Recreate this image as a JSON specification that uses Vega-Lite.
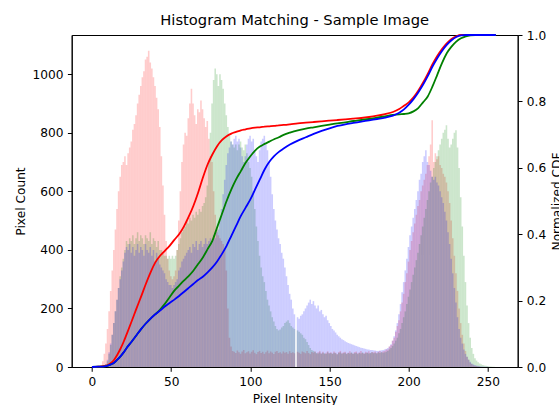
{
"$schema": "https://vega.github.io/schema/vega-lite/v6.json",
"width": 446, "height": 332,
"autosize": {"type": "none"},
"padding": {"left": 71.7, "top": 35, "right": 41.3, "bottom": 38},
"title": {"text": "Histogram Matching - Sample Image", "fontSize": 14.7, "fontWeight": "normal", "font": "DejaVu Sans", "color": "#000", "offset": 7, "dy": 18, "baseline": "alphabetic", "frame": "group", "anchor": "middle"},
"datasets": {
"hist": [
{"v":0,"r":0,"g":0,"b":0},{"v":1,"r":0,"g":0,"b":0},{"v":2,"r":0,"g":0,"b":0},{"v":3,"r":0,"g":0,"b":0},{"v":4,"r":0,"g":0,"b":0},
{"v":5,"r":5,"g":0,"b":0},{"v":6,"r":20,"g":0,"b":0},{"v":7,"r":45,"g":0,"b":0},{"v":8,"r":80,"g":10,"b":10},{"v":9,"r":130,"g":20,"b":25},
{"v":10,"r":190,"g":45,"b":50},{"v":11,"r":260,"g":75,"b":80},{"v":12,"r":330,"g":110,"b":110},{"v":13,"r":400,"g":150,"b":150},{"v":14,"r":470,"g":190,"b":190},
{"v":15,"r":540,"g":230,"b":230},{"v":16,"r":600,"g":270,"b":270},{"v":17,"r":650,"g":310,"b":300},{"v":18,"r":690,"g":340,"b":330},{"v":19,"r":700,"g":370,"b":360},
{"v":20,"r":720,"g":400,"b":390},{"v":21,"r":690,"g":430,"b":410},{"v":22,"r":730,"g":420,"b":400},{"v":23,"r":750,"g":440,"b":420},{"v":24,"r":770,"g":430,"b":390},
{"v":25,"r":810,"g":450,"b":410},{"v":26,"r":830,"g":420,"b":380},{"v":27,"r":860,"g":440,"b":400},{"v":28,"r":900,"g":460,"b":420},{"v":29,"r":930,"g":430,"b":390},
{"v":30,"r":960,"g":450,"b":410},{"v":31,"r":990,"g":440,"b":400},{"v":32,"r":1010,"g":420,"b":380},{"v":33,"r":1050,"g":450,"b":420},{"v":34,"r":1060,"g":440,"b":400},
{"v":35,"r":1080,"g":430,"b":390},{"v":36,"r":1040,"g":460,"b":410},{"v":37,"r":1020,"g":420,"b":380},{"v":38,"r":990,"g":440,"b":400},{"v":39,"r":960,"g":430,"b":360},
{"v":40,"r":920,"g":410,"b":390},{"v":41,"r":880,"g":430,"b":370},{"v":42,"r":820,"g":400,"b":350},{"v":43,"r":720,"g":400,"b":340},{"v":44,"r":620,"g":390,"b":330},
{"v":45,"r":520,"g":380,"b":320},{"v":46,"r":430,"g":380,"b":300},{"v":47,"r":370,"g":370,"b":290},{"v":48,"r":330,"g":380,"b":280},{"v":49,"r":310,"g":370,"b":280},
{"v":50,"r":300,"g":380,"b":270},{"v":51,"r":310,"g":370,"b":280},{"v":52,"r":330,"g":380,"b":290},{"v":53,"r":400,"g":400,"b":300},{"v":54,"r":500,"g":420,"b":330},
{"v":55,"r":600,"g":440,"b":340},{"v":56,"r":700,"g":460,"b":360},{"v":57,"r":760,"g":470,"b":370},{"v":58,"r":800,"g":480,"b":380},{"v":59,"r":790,"g":500,"b":390},
{"v":60,"r":850,"g":490,"b":400},{"v":61,"r":900,"g":510,"b":410},{"v":62,"r":950,"g":500,"b":390},{"v":63,"r":900,"g":520,"b":420},{"v":64,"r":860,"g":510,"b":410},
{"v":65,"r":830,"g":530,"b":430},{"v":66,"r":880,"g":520,"b":400},{"v":67,"r":870,"g":540,"b":420},{"v":68,"r":910,"g":530,"b":430},{"v":69,"r":880,"g":550,"b":410},
{"v":70,"r":850,"g":560,"b":420},{"v":71,"r":820,"g":580,"b":440},{"v":72,"r":840,"g":620,"b":420},{"v":73,"r":780,"g":700,"b":430},{"v":74,"r":720,"g":800,"b":440},
{"v":75,"r":700,"g":900,"b":430},{"v":76,"r":600,"g":980,"b":450},{"v":77,"r":520,"g":1020,"b":440},{"v":78,"r":470,"g":1000,"b":460},{"v":79,"r":450,"g":960,"b":470},
{"v":80,"r":440,"g":1000,"b":500},{"v":81,"r":430,"g":980,"b":540},{"v":82,"r":420,"g":950,"b":590},{"v":83,"r":400,"g":900,"b":640},{"v":84,"r":330,"g":860,"b":690},
{"v":85,"r":200,"g":820,"b":730},{"v":86,"r":100,"g":790,"b":750},{"v":87,"r":70,"g":770,"b":770},{"v":88,"r":55,"g":760,"b":760},{"v":89,"r":52,"g":750,"b":780},
{"v":90,"r":48,"g":760,"b":790},{"v":91,"r":56,"g":740,"b":770},{"v":92,"r":50,"g":760,"b":780},{"v":93,"r":45,"g":770,"b":750},{"v":94,"r":53,"g":750,"b":720},
{"v":95,"r":58,"g":740,"b":700},{"v":96,"r":47,"g":760,"b":720},{"v":97,"r":50,"g":730,"b":760},{"v":98,"r":54,"g":700,"b":780},{"v":99,"r":46,"g":680,"b":790},
{"v":100,"r":52,"g":650,"b":770},{"v":101,"r":57,"g":600,"b":780},{"v":102,"r":49,"g":540,"b":740},{"v":103,"r":44,"g":480,"b":720},{"v":104,"r":51,"g":430,"b":700},
{"v":105,"r":55,"g":380,"b":740},{"v":106,"r":48,"g":340,"b":770},{"v":107,"r":52,"g":310,"b":780},{"v":108,"r":45,"g":290,"b":790},{"v":109,"r":50,"g":260,"b":760},
{"v":110,"r":56,"g":230,"b":740},{"v":111,"r":47,"g":210,"b":700},{"v":112,"r":53,"g":190,"b":650},{"v":113,"r":49,"g":170,"b":590},{"v":114,"r":44,"g":155,"b":540},
{"v":115,"r":52,"g":140,"b":500},{"v":116,"r":55,"g":130,"b":470},{"v":117,"r":48,"g":125,"b":440},{"v":118,"r":50,"g":128,"b":420},{"v":119,"r":46,"g":135,"b":390},
{"v":120,"r":53,"g":140,"b":370},{"v":121,"r":49,"g":150,"b":340},{"v":122,"r":51,"g":155,"b":310},{"v":123,"r":45,"g":160,"b":280},{"v":124,"r":54,"g":150,"b":250},
{"v":125,"r":48,"g":140,"b":230},{"v":126,"r":50,"g":135,"b":200},{"v":127,"r":47,"g":130,"b":180},{"v":128,"r":0,"g":0,"b":0},{"v":129,"r":52,"g":125,"b":170},
{"v":130,"r":49,"g":120,"b":165},{"v":131,"r":45,"g":115,"b":175},{"v":132,"r":53,"g":110,"b":180},{"v":133,"r":50,"g":100,"b":190},{"v":134,"r":47,"g":95,"b":200},
{"v":135,"r":55,"g":85,"b":210},{"v":136,"r":48,"g":75,"b":220},{"v":137,"r":44,"g":65,"b":230},{"v":138,"r":51,"g":58,"b":215},{"v":139,"r":49,"g":55,"b":225},
{"v":140,"r":53,"g":52,"b":210},{"v":141,"r":46,"g":48,"b":200},{"v":142,"r":50,"g":46,"b":210},{"v":143,"r":55,"g":50,"b":190},{"v":144,"r":47,"g":45,"b":195},
{"v":145,"r":52,"g":49,"b":180},{"v":146,"r":45,"g":47,"b":170},{"v":147,"r":49,"g":44,"b":175},{"v":148,"r":54,"g":50,"b":160},{"v":149,"r":48,"g":46,"b":150},
{"v":150,"r":50,"g":48,"b":140},{"v":151,"r":46,"g":45,"b":130},{"v":152,"r":53,"g":49,"b":125},{"v":153,"r":49,"g":47,"b":118},{"v":154,"r":44,"g":43,"b":110},
{"v":155,"r":51,"g":48,"b":105},{"v":156,"r":55,"g":50,"b":100},{"v":157,"r":47,"g":45,"b":95},{"v":158,"r":50,"g":47,"b":92},{"v":159,"r":52,"g":49,"b":88},
{"v":160,"r":46,"g":44,"b":85},{"v":161,"r":49,"g":48,"b":82},{"v":162,"r":54,"g":46,"b":80},{"v":163,"r":48,"g":50,"b":78},{"v":164,"r":45,"g":45,"b":76},
{"v":165,"r":51,"g":47,"b":74},{"v":166,"r":53,"g":49,"b":72},{"v":167,"r":47,"g":44,"b":70},{"v":168,"r":50,"g":48,"b":68},{"v":169,"r":55,"g":46,"b":66},
{"v":170,"r":48,"g":50,"b":65},{"v":171,"r":46,"g":45,"b":63},{"v":172,"r":52,"g":47,"b":62},{"v":173,"r":49,"g":49,"b":60},{"v":174,"r":54,"g":46,"b":60},
{"v":175,"r":47,"g":48,"b":58},{"v":176,"r":51,"g":50,"b":58},{"v":177,"r":50,"g":47,"b":57},{"v":178,"r":53,"g":49,"b":56},{"v":179,"r":48,"g":46,"b":55},
{"v":180,"r":52,"g":50,"b":55},{"v":181,"r":55,"g":48,"b":56},{"v":182,"r":50,"g":51,"b":57},{"v":183,"r":54,"g":49,"b":58},{"v":184,"r":55,"g":50,"b":60},
{"v":185,"r":60,"g":52,"b":62},{"v":186,"r":60,"g":55,"b":65},{"v":187,"r":70,"g":60,"b":70},{"v":188,"r":75,"g":65,"b":78},{"v":189,"r":90,"g":72,"b":90},
{"v":190,"r":100,"g":80,"b":105},{"v":191,"r":120,"g":90,"b":125},{"v":192,"r":140,"g":100,"b":150},{"v":193,"r":160,"g":115,"b":180},{"v":194,"r":190,"g":130,"b":215},
{"v":195,"r":220,"g":150,"b":255},{"v":196,"r":250,"g":170,"b":290},{"v":197,"r":290,"g":190,"b":330},{"v":198,"r":320,"g":215,"b":370},{"v":199,"r":360,"g":240,"b":410},
{"v":200,"r":400,"g":265,"b":450},{"v":201,"r":430,"g":290,"b":480},{"v":202,"r":460,"g":315,"b":510},{"v":203,"r":490,"g":340,"b":540},{"v":204,"r":520,"g":365,"b":570},
{"v":205,"r":550,"g":390,"b":600},{"v":206,"r":570,"g":420,"b":640},{"v":207,"r":600,"g":450,"b":660},{"v":208,"r":620,"g":480,"b":700},{"v":209,"r":640,"g":510,"b":720},
{"v":210,"r":660,"g":540,"b":740},{"v":211,"r":690,"g":570,"b":700},{"v":212,"r":720,"g":600,"b":690},{"v":213,"r":760,"g":630,"b":670},{"v":214,"r":843,"g":650,"b":650},
{"v":215,"r":700,"g":680,"b":640},{"v":216,"r":730,"g":700,"b":650},{"v":217,"r":710,"g":720,"b":630},{"v":218,"r":720,"g":740,"b":620},{"v":219,"r":690,"g":760,"b":600},
{"v":220,"r":680,"g":780,"b":580},{"v":221,"r":660,"g":800,"b":560},{"v":222,"r":650,"g":810,"b":530},{"v":223,"r":630,"g":826,"b":500},{"v":224,"r":600,"g":780,"b":460},
{"v":225,"r":560,"g":750,"b":420},{"v":226,"r":500,"g":760,"b":370},{"v":227,"r":440,"g":780,"b":320},{"v":228,"r":380,"g":800,"b":270},{"v":229,"r":320,"g":809,"b":220},
{"v":230,"r":260,"g":750,"b":170},{"v":231,"r":200,"g":680,"b":130},{"v":232,"r":150,"g":580,"b":100},{"v":233,"r":110,"g":480,"b":80},{"v":234,"r":80,"g":380,"b":60},
{"v":235,"r":55,"g":290,"b":45},{"v":236,"r":35,"g":210,"b":35},{"v":237,"r":25,"g":150,"b":25},{"v":238,"r":15,"g":100,"b":18},{"v":239,"r":10,"g":65,"b":12},
{"v":240,"r":6,"g":45,"b":9},{"v":241,"r":4,"g":30,"b":7},{"v":242,"r":3,"g":22,"b":5},{"v":243,"r":2,"g":16,"b":4},{"v":244,"r":1,"g":12,"b":3},
{"v":245,"r":0,"g":9,"b":2},{"v":246,"r":0,"g":7,"b":2},{"v":247,"r":0,"g":5,"b":1},{"v":248,"r":0,"g":4,"b":1},{"v":249,"r":0,"g":3,"b":1},
{"v":250,"r":0,"g":2,"b":0},{"v":251,"r":0,"g":2,"b":0},{"v":252,"r":0,"g":1,"b":0},{"v":253,"r":0,"g":1,"b":0},{"v":254,"r":0,"g":0,"b":0},{"v":255,"r":0,"g":0,"b":0}
],
"cdf": [
{"v":0,"r":0,"g":0,"b":0},{"v":4,"r":0.001,"g":0.001,"b":0.001},{"v":8,"r":0.003,"g":0.002,"b":0.002},{"v":10,"r":0.006,"g":0.004,"b":0.004},
{"v":12,"r":0.012,"g":0.008,"b":0.008},{"v":14,"r":0.022,"g":0.013,"b":0.013},{"v":16,"r":0.037,"g":0.022,"b":0.022},{"v":18,"r":0.055,"g":0.032,"b":0.032},
{"v":20,"r":0.076,"g":0.044,"b":0.044},{"v":22,"r":0.100,"g":0.058,"b":0.058},{"v":25,"r":0.137,"g":0.076,"b":0.076},{"v":28,"r":0.175,"g":0.095,"b":0.095},
{"v":31,"r":0.212,"g":0.114,"b":0.114},{"v":34,"r":0.250,"g":0.131,"b":0.131},{"v":37,"r":0.285,"g":0.146,"b":0.146},{"v":40,"r":0.315,"g":0.159,"b":0.159},
{"v":43,"r":0.335,"g":0.173,"b":0.170},{"v":46,"r":0.350,"g":0.190,"b":0.182},{"v":49,"r":0.365,"g":0.210,"b":0.193},{"v":52,"r":0.383,"g":0.230,"b":0.203},
{"v":55,"r":0.400,"g":0.245,"b":0.214},{"v":58,"r":0.423,"g":0.260,"b":0.226},{"v":61,"r":0.452,"g":0.274,"b":0.238},{"v":64,"r":0.485,"g":0.290,"b":0.250},
{"v":67,"r":0.525,"g":0.310,"b":0.262},{"v":70,"r":0.570,"g":0.330,"b":0.272},{"v":73,"r":0.610,"g":0.355,"b":0.285},{"v":76,"r":0.640,"g":0.380,"b":0.300},
{"v":79,"r":0.665,"g":0.420,"b":0.318},{"v":82,"r":0.683,"g":0.460,"b":0.340},{"v":85,"r":0.695,"g":0.500,"b":0.365},{"v":88,"r":0.703,"g":0.535,"b":0.395},
{"v":91,"r":0.708,"g":0.565,"b":0.425},{"v":94,"r":0.713,"g":0.590,"b":0.455},{"v":97,"r":0.716,"g":0.615,"b":0.480},{"v":100,"r":0.719,"g":0.635,"b":0.505},
{"v":103,"r":0.721,"g":0.652,"b":0.535},{"v":106,"r":0.722,"g":0.664,"b":0.565},{"v":109,"r":0.724,"g":0.672,"b":0.595},{"v":112,"r":0.725,"g":0.679,"b":0.618},
{"v":115,"r":0.726,"g":0.686,"b":0.635},{"v":118,"r":0.728,"g":0.692,"b":0.648},{"v":121,"r":0.729,"g":0.699,"b":0.658},{"v":125,"r":0.731,"g":0.706,"b":0.670},
{"v":130,"r":0.734,"g":0.713,"b":0.682},{"v":135,"r":0.736,"g":0.718,"b":0.692},{"v":140,"r":0.738,"g":0.722,"b":0.702},{"v":145,"r":0.740,"g":0.726,"b":0.711},
{"v":150,"r":0.742,"g":0.730,"b":0.719},{"v":155,"r":0.744,"g":0.734,"b":0.726},{"v":160,"r":0.746,"g":0.737,"b":0.731},{"v":165,"r":0.748,"g":0.741,"b":0.735},
{"v":170,"r":0.750,"g":0.744,"b":0.739},{"v":175,"r":0.753,"g":0.747,"b":0.743},{"v":180,"r":0.757,"g":0.751,"b":0.747},{"v":185,"r":0.762,"g":0.755,"b":0.751},
{"v":190,"r":0.768,"g":0.759,"b":0.757},{"v":194,"r":0.777,"g":0.761,"b":0.766},{"v":197,"r":0.787,"g":0.762,"b":0.776},{"v":200,"r":0.797,"g":0.764,"b":0.790},
{"v":203,"r":0.812,"g":0.770,"b":0.807},{"v":206,"r":0.832,"g":0.780,"b":0.827},{"v":209,"r":0.856,"g":0.797,"b":0.850},{"v":212,"r":0.883,"g":0.815,"b":0.876},
{"v":215,"r":0.912,"g":0.845,"b":0.905},{"v":218,"r":0.937,"g":0.880,"b":0.930},{"v":221,"r":0.958,"g":0.915,"b":0.952},{"v":224,"r":0.975,"g":0.945,"b":0.970},
{"v":227,"r":0.988,"g":0.965,"b":0.984},{"v":230,"r":0.996,"g":0.980,"b":0.994},{"v":233,"r":1.0,"g":0.990,"b":0.999},{"v":236,"r":1.0,"g":0.996,"b":1.0},
{"v":239,"r":1.0,"g":0.999,"b":1.0},{"v":242,"r":1,"g":1,"b":1},{"v":255,"r":1,"g":1,"b":1}
]
},
"layer": [
{
"data": {"name": "hist"},
"transform": [{"fold": ["r", "g", "b"], "as": ["channel", "count"]}],
"mark": {"type": "bar", "opacity": 0.2, "binSpacing": 0, "clip": true},
"encoding": {
"x": {"field": "v", "type": "quantitative", "bin": {"binned": true, "step": 1}, "scale": {"domain": [-12.8, 268.8], "nice": false, "zero": false}, "axis": {"title": "Pixel Intensity", "values": [0, 50, 100, 150, 200, 250], "format": "d"}},
"y": {"field": "count", "type": "quantitative", "stack": null, "scale": {"domain": [0, 1134], "nice": false}, "axis": {"title": "Pixel Count", "values": [0, 200, 400, 600, 800, 1000], "format": "d"}},
"color": {"field": "channel", "type": "nominal", "scale": {"domain": ["r", "g", "b"], "range": ["#ff0000", "#008000", "#0000ff"]}, "legend": null}
}
},
{
"data": {"name": "cdf"},
"transform": [{"fold": ["r", "g", "b"], "as": ["channel", "cdf"]}],
"mark": {"type": "line", "strokeWidth": 1.8, "interpolate": "monotone"},
"encoding": {
"x": {"field": "v", "type": "quantitative"},
"y": {"field": "cdf", "type": "quantitative", "scale": {"domain": [0, 1], "nice": false}, "axis": {"orient": "right", "title": "Normalized CDF", "values": [0, 0.2, 0.4, 0.6, 0.8, 1], "format": ".1f", "titleAngle": 270, "titleBaseline": "top"}},
"color": {"field": "channel", "type": "nominal", "legend": null}
}
}
],
"resolve": {"scale": {"y": "independent"}},
"config": {
"font": "DejaVu Sans",
"view": {"stroke": "#000", "strokeWidth": 1},
"axis": {"grid": false, "domainColor": "#000", "domainWidth": 1, "tickColor": "#000", "tickWidth": 1, "tickSize": 4.3, "labelPadding": 4.3, "labelColor": "#000", "labelFont": "DejaVu Sans", "labelFontSize": 12.2, "titleColor": "#000", "titleFont": "DejaVu Sans", "titleFontSize": 12.2, "titleFontWeight": "normal", "titlePadding": 5, "labelFlush": false, "labelOverlap": false}
}
}
